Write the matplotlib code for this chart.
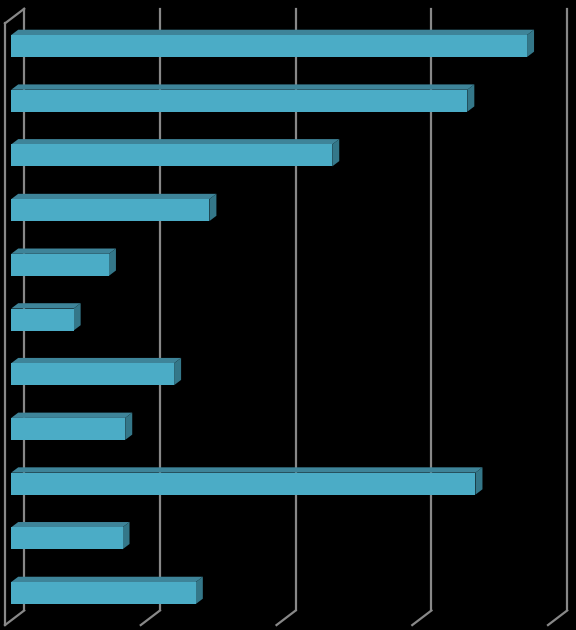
import matplotlib
matplotlib.use("Agg")
import matplotlib.pyplot as plt
from matplotlib.patches import Polygon

# values (no labels in the original)
categories = ["A", "B", "C", "D", "E", "F", "G", "H", "I", "J", "K"]
values = [38.0, 33.6, 23.65, 14.6, 7.2, 4.6, 12.0, 8.4, 34.2, 8.2, 13.6]
grid_ticks = [0, 10, 20, 30, 40]

front_col = "#4BACC6"
top_col = "#3E8499"
side_col = "#347789"
grid_col = "#888888"

fig = plt.figure(figsize=(5.76, 6.30), dpi=100, facecolor="black")
ax = fig.add_axes([0, 0, 1, 1])
ax.set_facecolor("black")
xmin, xmax = -0.825, 41.606
ymin, ymax = -0.841, 10.676
ax.set_xlim(xmin, xmax)
ax.set_ylim(ymax, ymin)
ax.axis("off")

# pixel -> data unit conversion (y grows downward on screen here)
sx = 576 / (xmax - xmin)
sy = 630 / (ymax - ymin)


def off(px, py):
    # px right, py up (pixels) -> data offsets
    return px / sx, -py / sy


back = off(13, 9.9)
front = off(-6.2, -4.7)
bar_d = off(7, 5.3)
lo, hi = -0.5, len(values) - 0.5

# grid lines on back wall with floor edges
for t in grid_ticks:
    ax.plot([t + back[0]] * 2, [lo + back[1], hi + back[1]], color=grid_col, lw=1.6, zorder=1)
    ax.plot([t + back[0], t + front[0]], [hi + back[1], hi + front[1]], color=grid_col, lw=1.6, zorder=1)

# left wall
ax.plot([front[0]] * 2, [lo + front[1], hi + front[1]], color=grid_col, lw=1.6, zorder=1)
ax.plot([front[0], back[0]], [lo + front[1], lo + back[1]], color=grid_col, lw=1.6, zorder=1)

# bars
h = 0.402
ypos = list(range(len(values)))
ax.barh(ypos, values, height=h, left=0, color=front_col, zorder=3)
for y, v in zip(ypos, values):
    t = y - h / 2
    b = y + h / 2
    top = [(0, t), (v, t), (v + bar_d[0], t + bar_d[1]), (bar_d[0], t + bar_d[1])]
    side = [(v, t), (v, b), (v + bar_d[0], b + bar_d[1]), (v + bar_d[0], t + bar_d[1])]
    ax.add_patch(Polygon(top, closed=True, facecolor=top_col, edgecolor="none", zorder=2))
    ax.add_patch(Polygon(side, closed=True, facecolor=side_col, edgecolor="none", zorder=2))

fig.savefig("out.png", dpi=100, facecolor="black")
